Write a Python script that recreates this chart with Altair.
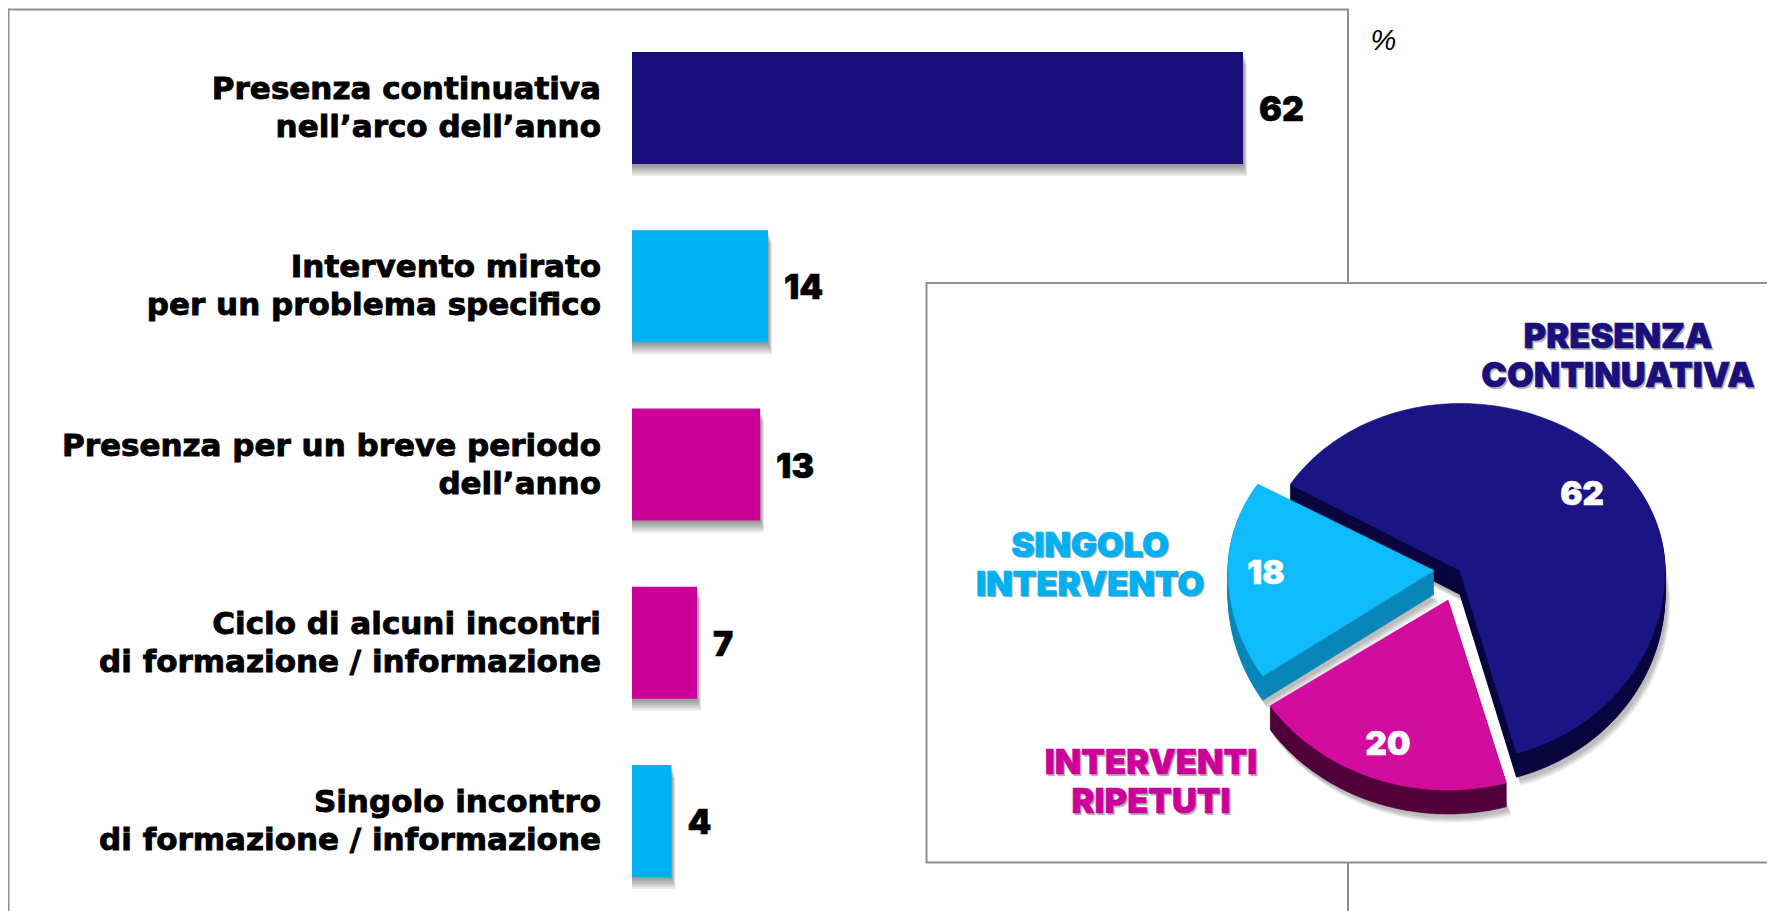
import numpy as np
import pandas as pd
import altair as alt

# ---- bar panel data
bar_labels = [
    "Presenza continuativa\nnell’arco dell’anno",
    "Intervento mirato\nper un problema specifico",
    "Presenza per un breve periodo\ndell’anno",
    "Ciclo di alcuni incontri\ndi formazione / informazione",
    "Singolo incontro\ndi formazione / informazione",
]
bar_values = [62, 13.8, 13, 6.6, 4]
bar_text = ["62", "14", "13", "7", "4"]
bar_colors = ["#180F7B", "#00B0F0", "#CC0099", "#CC0099", "#00B0F0"]

# ---- pie data (clockwise from its start)
pie_names = ["PRESENZA CONTINUATIVA", "INTERVENTI RIPETUTI", "SINGOLO INTERVENTO"]
pie_values = [62, 20, 18]
pie_face = ["#1A1585", "#D10C9E", "#10BBFB"]
pie_side = ["#0A0640", "#52003A", "#0A86B8"]

FONT = "Inter"
FRAME = "#8F8F8F"
W, H = 1759, 903
base = pd.DataFrame({"a": [0]})

bars = pd.DataFrame({"label": bar_labels, "value": bar_values, "text": bar_text, "color": bar_colors,
                     "zero": [0, 0, 0, 0, 0]})
xscale = alt.Scale(domain=[0, 62], range=[624, 1235], nice=False)
xs = alt.X("value:Q", axis=None, stack=None, scale=xscale)
x0 = alt.X("zero:Q", axis=None, scale=xscale)
ys = alt.Y("label:N", axis=None, sort=bar_labels,
           scale=alt.Scale(domain=bar_labels, range=[44, 869], paddingInner=0.3717, paddingOuter=0))


def box(x0, y0, x1, y1, fill):
    return alt.Chart(base).mark_rect(fill=fill, stroke=FRAME, strokeWidth=2).encode(
        x=alt.value(x0), x2=alt.value(x1), y=alt.value(y0), y2=alt.value(y1))


def label(text, x, y, color, size=34.5, stroke=0.6, shadow=False, weight=900, style="normal", font=FONT):
    df = pd.DataFrame({"t": [text]})
    out = []
    if shadow:
        out.append(alt.Chart(df).mark_text(font=font, fontWeight=weight, fontSize=size, color="#777777", opacity=0.55,
                                           stroke="#777777", strokeWidth=stroke, strokeOpacity=0.55, align="center",
                                           baseline="middle", lineBreak="\n", lineHeight=39).encode(
            x=alt.value(x + 1.5), y=alt.value(y + 1.5), text="t:N"))
    mark = dict(font=font, fontWeight=weight, fontSize=size, color=color, align="center", baseline="middle",
                lineBreak="\n", lineHeight=39, fontStyle=style)
    if stroke:
        mark.update(stroke=color, strokeWidth=stroke)
    out.append(alt.Chart(df).mark_text(**mark).encode(x=alt.value(x), y=alt.value(y), text="t:N"))
    return out


# ---- frames
layers = [box(0.5, 1.5, 1340, 1000, "white")]

# ---- bars, with soft shadow
for k in (12, 10, 8, 6, 4, 2):
    layers.append(alt.Chart(bars).mark_bar(color="#000000", opacity=0.08, yOffset=k, xOffset=k / 3).encode(x=xs, y=ys))
layers.append(alt.Chart(bars).mark_bar().encode(x=xs, y=ys, color=alt.Color("color:N", scale=None, legend=None)))
layers.append(alt.Chart(bars).mark_text(font="DejaVu Sans", fontWeight="bold", fontSize=31, color="black", align="right",
                                        dx=-31, dy=-18, lineBreak="\n", lineHeight=38, baseline="middle", stroke="black",
                                        strokeWidth=0.9).encode(x=x0, y=ys, text="label:N"))
layers.append(alt.Chart(bars).mark_text(font=FONT, fontWeight=900, fontSize=34, color="black", align="left", dx=16, dy=3,
                                        baseline="middle", stroke="black", strokeWidth=0.5).encode(x=xs, y=ys, text="text:N"))
layers += label("%", 1375.5, 33, "black", size=29, stroke=0, weight=400, style="italic", font="Liberation Sans")

# ---- inset
layers.append(box(918.5, 275, 1800, 854.5, "white"))

# ---- exploded perspective pie, from the share of each slice
APEX = [(1452, 562.5), (1440, 592), (1426, 562.5)]
RX_LEFT = [198, 214, 206]
RX_RIGHT = [205, 214, 206]
RY_TOP = 167
RY_BOT = [190, 190, 190]
DEPTH = 24
START = -59.0


def wedge(i, dx=0.0, dy=0.0):
    a0 = START + 3.6 * sum(pie_values[:i])
    a1 = a0 + 3.6 * pie_values[i]
    th = np.radians(np.arange(a0, a1 + 0.5, 1.0))
    cx, cy = APEX[i]
    c = np.cos(th)
    s = np.sin(th)
    px = cx + np.where(s < 0, RX_LEFT[i], RX_RIGHT[i]) * s + dx
    py = cy - np.where(c > 0, RY_TOP, RY_BOT[i]) * c + dy
    ring = [[cx + dx, cy + dy]] + [[float(a), float(b)] for a, b in zip(px, py)] + [[cx + dx, cy + dy]]
    return ring


def feature(ring, color, opacity):
    return {"type": "Feature", "geometry": {"type": "Polygon", "coordinates": [ring]},
            "properties": {"color": color, "opacity": opacity}}


# an invisible sheet the size of the chart makes the fitted projection 1:1 with the chart's pixels
features = [feature([[0, 0], [W, 0], [W, H], [0, H], [0, 0]], "#FFFFFF", 0)]
for i in range(3):
    for s in (8, 6, 4):
        features.append(feature(wedge(i, s * 0.6, DEPTH + s), "#000000", 0.09))
for i in range(3):
    for d in range(DEPTH, 0, -1):
        features.append(feature(wedge(i, 0, d), pie_side[i], 1))
    features.append(feature(wedge(i), pie_face[i], 1))

layers.append(alt.Chart(alt.Data(values=features)).mark_geoshape(strokeWidth=0.6).encode(
    fill=alt.Fill("properties.color:N", scale=None, legend=None),
    stroke=alt.Stroke("properties.color:N", scale=None, legend=None),
    opacity=alt.Opacity("properties.opacity:Q", scale=None, legend=None),
).project(type="identity"))

# ---- pie labels (y is the first line's centre)
layers += label("PRESENZA\nCONTINUATIVA", 1610, 330, "#1A0F7C", shadow=True)
layers += label("SINGOLO\nINTERVENTO", 1082, 538.5, "#00B0F0", shadow=True)
layers += label("INTERVENTI\nRIPETUTI", 1143, 756, "#CC0099", shadow=True)
layers += label("62", 1574, 487, "white", size=33)
layers += label("18", 1258, 566, "white", size=33)
layers += label("20", 1380, 737, "white", size=33)

chart = alt.layer(*layers).properties(
    width=W, height=H, padding=0, autosize=alt.AutoSizeParams(type="none")
).configure_view(stroke=None)

chart.save("out.html", embed_options={"renderer": "svg", "actions": False})
